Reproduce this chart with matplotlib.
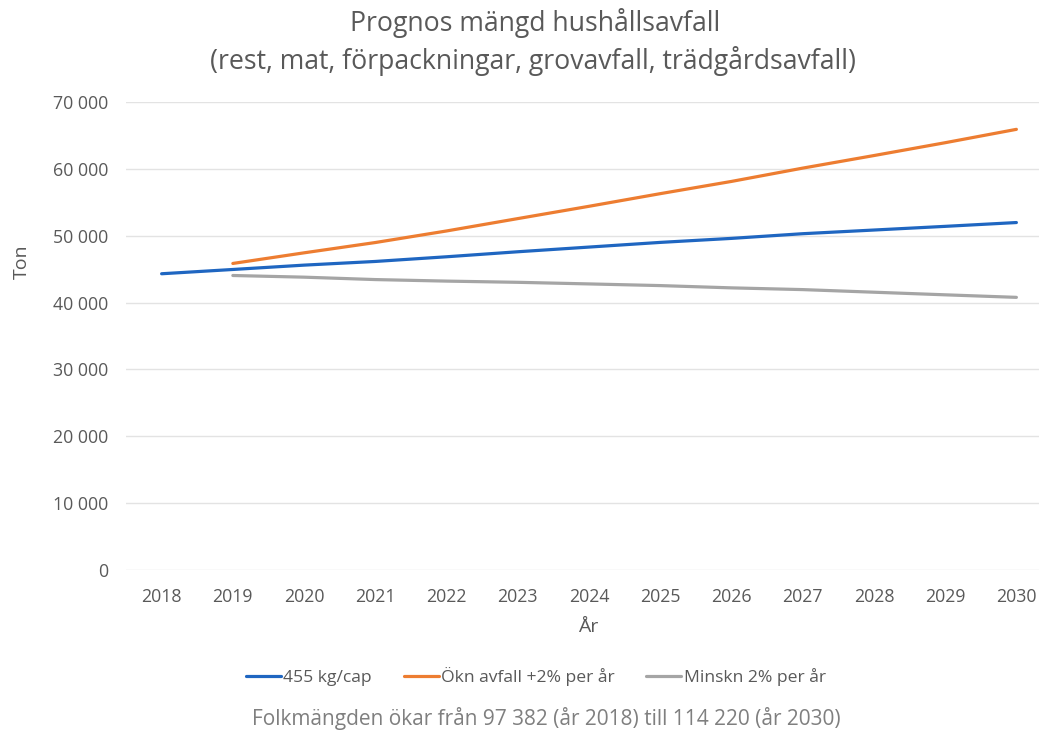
import matplotlib
matplotlib.use("Agg")
import matplotlib.pyplot as plt
from matplotlib.ticker import FuncFormatter

years = [2018, 2019, 2020, 2021, 2022, 2023, 2024, 2025, 2026, 2027, 2028, 2029, 2030]
year_labels = [str(y) for y in years]

# 455 kg/cap (starts 2018)
kgcap = [44310, 44950, 45600, 46150, 46850, 47600, 48300, 49000, 49600, 50300, 50850, 51400, 51970]
# Ökn avfall +2% per år (starts 2019)
okn_years = years[1:]
okn = [45850, 47440, 48980, 50710, 52560, 54400, 56290, 58120, 60110, 61990, 63910, 65910]
# Minskn 2% per år (starts 2019)
minskn_years = years[1:]
minskn = [44050, 43800, 43440, 43210, 43030, 42790, 42540, 42200, 41940, 41550, 41160, 40780]

yticks = [0, 10000, 20000, 30000, 40000, 50000, 60000, 70000]

FONT = ["Open Sans", "DejaVu Sans"]
TXT = "#595959"
plt.rcParams["font.family"] = FONT

fig = plt.figure(figsize=(10.39, 7.35), dpi=100)
# plot area (extends slightly past right edge, as in the cropped reference)
ax = fig.add_axes([126 / 1039, (735 - 570) / 735, (1052 - 126) / 1039, (570 - 102) / 735])

idx = {y: i for i, y in enumerate(years)}
ax.plot([idx[y] for y in years], kgcap, color="#1F66C1", lw=2.3, label="455 kg/cap", solid_capstyle="round")
ax.plot([idx[y] for y in okn_years], okn, color="#ED7D31", lw=2.3, label="Ökn avfall +2% per år", solid_capstyle="round")
ax.plot([idx[y] for y in minskn_years], minskn, color="#A5A5A5", lw=2.3, label="Minskn 2% per år", solid_capstyle="round")

ax.set_xlim(-0.5, len(years) - 0.5)
ax.set_ylim(0, 70000)
ax.set_yticks(yticks)
ax.yaxis.set_major_formatter(FuncFormatter(lambda v, p: f"{int(v):,}".replace(",", " ")))
ax.set_xticks(range(len(years)))
ax.set_xticklabels(year_labels)
ax.grid(axis="y", color="#E3E3E3", lw=1.0)
ax.set_axisbelow(True)
for s in ax.spines.values():
    s.set_visible(False)
ax.tick_params(axis="both", length=0, colors=TXT, labelsize=12.8)
ax.tick_params(axis="y", pad=13)
ax.tick_params(axis="x", pad=13)

fig.text(588 / 1039, 1 - 627 / 735, "År", ha="center", va="center", color=TXT, fontsize=14)
fig.text(22 / 1039, 1 - 262 / 735, "Ton", ha="center", va="center", rotation=90, color=TXT, fontsize=14)

fig.text(535 / 1039, 1 - 23 / 735, "Prognos mängd hushållsavfall", ha="center", va="center", color=TXT, fontsize=19.2)
fig.text(533 / 1039, 1 - 61 / 735, "(rest, mat, förpackningar, grovavfall, trädgårdsavfall)", ha="center", va="center", color=TXT, fontsize=19.2)

leg = fig.legend(loc="center", bbox_to_anchor=(536 / 1039, 1 - 677 / 735), ncol=3, frameon=False,
                 fontsize=12.6, handlelength=2.0, handletextpad=0.15, columnspacing=1.8)
for t in leg.get_texts():
    t.set_color(TXT)

fig.text(546 / 1039, 1 - 718 / 735, "Folkmängden ökar från 97 382 (år 2018) till 114 220 (år 2030)",
         ha="center", va="center", color="#7F7F7F", fontsize=15)

fig.savefig("out.png", dpi=100)
